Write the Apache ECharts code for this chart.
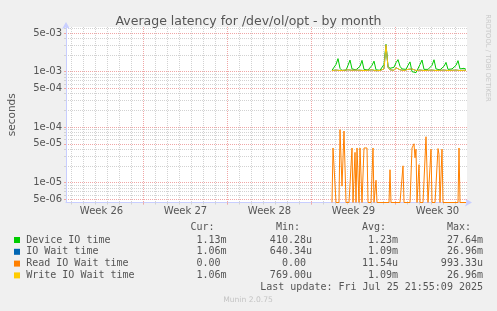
<!DOCTYPE html>
<html>
<head>
<meta charset="utf-8">
<script src="https://cdn.jsdelivr.net/npm/echarts@6/dist/echarts.min.js"></script>
<style>
  html, body { margin: 0; padding: 0; background: #f0f0f0; }
  #chart { width: 497px; height: 311px; }
</style>
</head>
<body>
<div id="chart"></div>
<script>
// x is in hours from the left edge of the plot (one sample column = 2 h)
var xMax = 802;
var yMin = 4.36e-6;
var yMax = 6.4e-3;

var weekLabels = ["Week 26", "Week 27", "Week 28", "Week 29", "Week 30"];
var weekStart = -13; // monday 00:00 of week 26, just left of the plot
var yMajor = [5e-6, 1e-5, 5e-5, 1e-4, 5e-4, 1e-3, 5e-3];
var yMinor = [6e-6, 7e-6, 8e-6, 9e-6, 2e-5, 3e-5, 4e-5, 6e-5, 7e-5, 8e-5, 9e-5,
  2e-4, 3e-4, 4e-4, 6e-4, 7e-4, 8e-4, 9e-4, 2e-3, 3e-3, 4e-3, 6e-3];

var t0 = 532; // first sample (hours)

// every 4 h
var deviceIO = [
  1.06e-3, 1.08e-3, 1.35e-3, 1.72e-3, 1.15e-3, 1.05e-3, 1.07e-3, 1.06e-3, 1.3e-3, 1.62e-3,
  1.12e-3, 1.05e-3, 1.08e-3, 1.06e-3, 1.25e-3, 1.6e-3, 1.1e-3, 1.04e-3, 1.07e-3, 1.05e-3,
  1.3e-3, 1.55e-3, 1.08e-3, 1.03e-3, 1.06e-3, 1.1e-3, 1.35e-3, 3.1e-3, 1.25e-3, 1.15e-3,
  1.12e-3, 1.2e-3, 1.45e-3, 1.65e-3, 1.25e-3, 1.12e-3, 1.15e-3, 1.1e-3, 1.3e-3, 1.5e-3,
  1.0e-3, 9.3e-4, 9.6e-4, 1.02e-3, 1.35e-3, 1.62e-3, 1.1e-3, 1.07e-3, 1.1e-3, 1.08e-3,
  1.3e-3, 1.64e-3, 1.12e-3, 1.06e-3, 1.08e-3, 1.05e-3, 1.25e-3, 1.47e-3, 1.1e-3, 1.07e-3,
  1.12e-3, 1.08e-3, 1.3e-3, 1.58e-3, 1.12e-3, 1.07e-3, 1.15e-3, 1.1e-3
];
var writeWait = [
  1.05e-3, 1.06e-3, 1.07e-3, 1.1e-3, 1.05e-3, 1.04e-3, 1.06e-3, 1.05e-3, 1.08e-3, 1.12e-3,
  1.06e-3, 1.04e-3, 1.07e-3, 1.05e-3, 1.06e-3, 1.1e-3, 1.05e-3, 1.04e-3, 1.06e-3, 1.05e-3,
  1.08e-3, 1.1e-3, 1.04e-3, 1.03e-3, 1.05e-3, 1.06e-3, 1.12e-3, 3.05e-3, 1.2e-3, 1.08e-3,
  1.05e-3, 1.06e-3, 1.18e-3, 1.15e-3, 1.08e-3, 1.06e-3, 1.05e-3, 1.08e-3, 1.1e-3, 1.06e-3,
  1.12e-3, 1.1e-3, 1.05e-3, 1.04e-3, 1.07e-3, 1.1e-3, 1.05e-3, 1.04e-3, 1.06e-3, 1.05e-3,
  1.07e-3, 1.1e-3, 1.05e-3, 1.04e-3, 1.06e-3, 1.05e-3, 1.07e-3, 1.1e-3, 1.05e-3, 1.04e-3,
  1.06e-3, 1.05e-3, 1.07e-3, 1.1e-3, 1.05e-3, 1.04e-3, 1.06e-3, 1.06e-3
];
var ioWait = writeWait; // same values, drawn under the yellow line

// every 2 h
var readWait = [
  0, 4.2e-5, 4.2e-5, 4.2e-5, 0, 0, 0, 0, 9e-5, 9e-5,
  8.6e-6, 8.6e-6, 8.5e-5, 8.5e-5, 0, 0, 0, 0, 0, 0,
  4.2e-5, 0, 0, 3.5e-5, 0, 4.2e-5, 4.2e-5, 0, 4.2e-5, 4.2e-5,
  0, 0, 4.2e-5, 4.2e-5, 4.2e-5, 4.2e-5, 0, 0, 0, 0,
  0, 4.2e-5, 0, 0, 1.1e-5, 0, 0, 0, 0, 0,
  0, 0, 0, 0, 0, 0, 0, 0, 1.7e-5, 0,
  0, 0, 0, 0, 0, 0, 0, 0, 0, 0,
  0, 2e-5, 0, 0, 0, 0, 0, 0, 0, 0,
  4.2e-5, 4.5e-5, 5e-5, 2.8e-5, 4e-5, 0, 0, 2.1e-5, 0, 0,
  0, 0, 0, 0, 6.7e-5, 6.7e-5, 0, 0, 0, 4e-5,
  0, 0, 0, 0, 0, 0, 4.1e-5, 3.2e-5, 0, 0,
  4e-5, 0, 0, 0, 0, 0, 0, 0, 0, 0,
  0, 0, 0, 0, 0, 0, 0, 4.2e-5, 0, 0,
  0, 0, 0, 0, 0
];

var legendNames = ["Device IO time", "IO Wait time", "Read IO Wait time", "Write IO Wait time"];
var legendColors = ["#00cc00", "#0066b3", "#ff8000", "#ffcc00"];
var curText = ["1.13m", "1.06m", "0.00 ", "1.06m"];
var minText = ["410.28u", "640.34u", "0.00 ", "769.00u"];
var avgText = ["1.23m", "1.09m", "11.54u", "1.09m"];
var maxText = ["27.64m", "26.96m", "993.33u", "26.96m"];
var colHeads = ["Cur:", "Min:", "Avg:", "Max:"];
var lastUpdate = "Last update: Fri Jul 25 21:55:09 2025";

var dayLines = [];
for (var d = weekStart; d <= xMax; d += 24) if (d >= 0) dayLines.push(d);
var weekLines = [];
var weekCenters = [];
for (var w = 0; w < weekLabels.length; w++) {
  if (weekStart + 168 * w > 0) weekLines.push(weekStart + 168 * w);
  weekCenters.push(weekStart + 84 + 168 * w);
}

function pairs(arr, step) {
  return arr.map(function (v, i) {
    // rrdtool draws zero at the bottom of a log graph
    return [t0 + i * step, v > 0 ? v : yMin];
  });
}

function expLabel(v) {
  var e = Math.floor(Math.log10(v) + 1e-9);
  var m = Math.round(v / Math.pow(10, e));
  return m + "e-" + ("0" + -e).slice(-2);
}

var axisColor = "#c8ceff";
var gridGray = "#d2d2d2";
var gridRed = "#f0a6a6";
var font = "DejaVu Sans";
var mono = "DejaVu Sans Mono";

var myChart = echarts.init(document.getElementById("chart"));

var graphics = [
  {
    type: "text", x: 488, y: 58, rotation: -Math.PI / 2,
    style: { text: "RRDTOOL / TOBI OETIKER", font: '6.8px "' + font + '"', fill: "#c8c8c8", textAlign: "center", textVerticalAlign: "middle" }
  },
  {
    type: "text", x: 248, y: 300,
    style: { text: "Munin 2.0.75", font: '7.6px "' + font + '"', fill: "#c4c4c4", textAlign: "center", textVerticalAlign: "middle" }
  },
  {
    type: "text", x: 483, y: 287.7,
    style: { text: lastUpdate, font: '10px "' + mono + '"', fill: "#555", textAlign: "right", textVerticalAlign: "middle" }
  }
];
var colRight = [226.5, 312, 398, 483];
colHeads.forEach(function (h, c) {
  graphics.push({
    type: "text", x: colRight[c] - 12, y: 227.3,
    style: { text: h, font: '10px "' + mono + '"', fill: "#555", textAlign: "right", textVerticalAlign: "middle" }
  });
});
legendNames.forEach(function (name, r) {
  var y = 240 + r * 11.8;
  graphics.push({
    type: "rect", shape: { x: 14, y: y - 3, width: 6, height: 6 },
    style: { fill: legendColors[r] }
  });
  graphics.push({
    type: "text", x: 26.2, y: y,
    style: { text: name, font: '10px "' + mono + '"', fill: "#555", textAlign: "left", textVerticalAlign: "middle" }
  });
  [curText, minText, avgText, maxText].forEach(function (col, c) {
    graphics.push({
      type: "text", x: colRight[c], y: y,
      style: { text: col[r], font: '10px "' + mono + '"', fill: "#555", textAlign: "right", textVerticalAlign: "middle" }
    });
  });
});

function lineSeries(name, data, color) {
  return {
    name: name, type: "line", data: data, xAxisIndex: 0, yAxisIndex: 0,
    showSymbol: false, symbol: "none", clip: true,
    lineStyle: { width: 1, color: color }, itemStyle: { color: color }
  };
}

myChart.setOption({
  animation: false,
  backgroundColor: "#f0f0f0",
  title: {
    text: "Average latency for /dev/ol/opt - by month",
    left: "center", top: 10,
    textStyle: { fontFamily: font, fontSize: 12.5, fontWeight: "normal", color: "#555" }
  },
  grid: {
    left: 66, right: 30, top: 27, bottom: 108.5,
    show: true, backgroundColor: "#fff", borderWidth: 0,
    outerBoundsMode: "none"
  },
  xAxis: [
    {
      type: "value", min: 0, max: xMax, position: "bottom",
      axisLine: { show: true, lineStyle: { color: axisColor }, symbol: ["none", "arrow"], symbolSize: [6, 7], symbolOffset: [0, 5] },
      axisTick: { show: true, length: 2, customValues: dayLines, lineStyle: { color: gridGray } },
      axisLabel: { show: false },
      splitLine: { show: true, lineStyle: { color: gridGray, type: [1, 1] } }
    },
    {
      type: "value", min: 0, max: xMax, position: "bottom",
      axisLine: { show: false },
      axisTick: { show: true, length: 2, customValues: weekLines, lineStyle: { color: gridRed } },
      axisLabel: {
        show: true, customValues: weekCenters, margin: 4,
        fontFamily: font, fontSize: 10, color: "#555",
        formatter: function (v) { return weekLabels[Math.round((v - weekStart - 84) / 168)]; }
      },
      splitLine: { show: true, lineStyle: { color: gridRed, type: [1, 1] } }
    }
  ],
  yAxis: [
    {
      type: "log", logBase: 10, min: yMin, max: yMax, position: "left",
      name: "seconds", nameLocation: "middle", nameGap: 48,
      nameTextStyle: { fontFamily: font, fontSize: 10.5, color: "#555" },
      axisLine: { show: true, lineStyle: { color: axisColor }, symbol: ["none", "arrow"], symbolSize: [6, 7], symbolOffset: [0, 5] },
      axisTick: { show: true, length: 2, customValues: yMajor, lineStyle: { color: gridRed } },
      axisLabel: {
        show: true, customValues: yMajor, margin: 4,
        fontFamily: font, fontSize: 10, color: "#555",
        formatter: expLabel
      },
      splitLine: { show: true, lineStyle: { color: gridRed, type: [1, 1] } },
      z: 3
    },
    {
      type: "log", logBase: 10, min: yMin, max: yMax, position: "left",
      axisLine: { show: false },
      axisTick: { show: true, length: 2, customValues: yMinor, lineStyle: { color: gridGray } },
      axisLabel: { show: false },
      splitLine: { show: true, lineStyle: { color: gridGray, type: [1, 1] } },
      z: 2
    }
  ],
  series: [
    lineSeries("Device IO time", pairs(deviceIO, 4), legendColors[0]),
    lineSeries("IO Wait time", pairs(ioWait, 4), legendColors[1]),
    lineSeries("Read IO Wait time", pairs(readWait, 2), legendColors[2]),
    lineSeries("Write IO Wait time", pairs(writeWait, 4), legendColors[3])
  ],
  graphic: graphics
});
</script>
</body>
</html>
